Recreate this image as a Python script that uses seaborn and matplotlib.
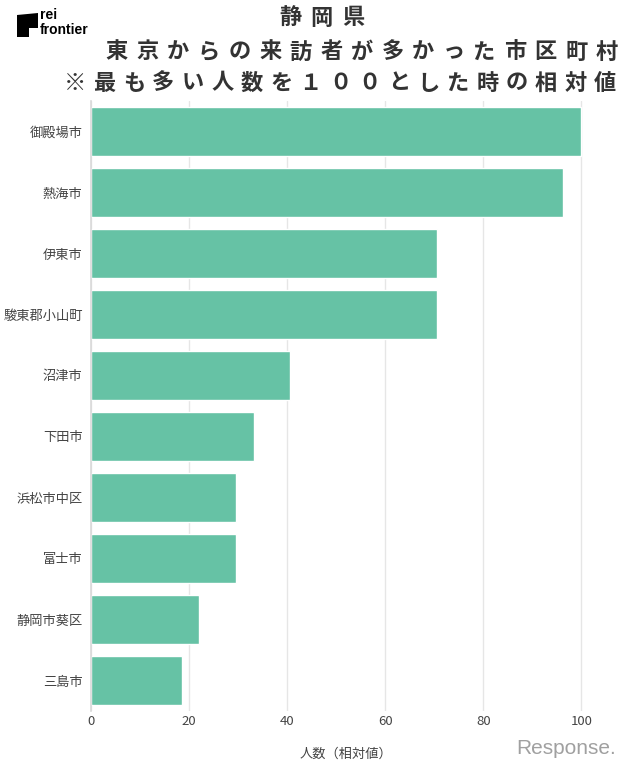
import matplotlib
matplotlib.use('Agg')
import matplotlib.pyplot as plt
from matplotlib.patches import Polygon
import seaborn as sns
import pandas as pd

# data (relative value, top = 100)
cities = ['御殿場市', '熱海市', '伊東市', '駿東郡小山町', '沼津市',
          '下田市', '浜松市中区', '富士市', '静岡市葵区', '三島市']
values = [100, 96.3, 70.5, 70.5, 40.6, 33.2, 29.5, 29.5, 22.0, 18.6]
xticks = [0, 20, 40, 60, 80, 100]

title_lines = ['静岡県', '東京からの来訪者が多かった市区町村', '※最も多い人数を１００とした時の相対値']
xlabel = '人数（相対値）'

sns.set_theme(style='white')
plt.rcParams['font.family'] = ['Noto Sans CJK JP', 'DejaVu Sans']

W, H = 640, 777
fig = plt.figure(figsize=(W / 100, H / 100), dpi=100)
fig.patch.set_facecolor('white')
ax = fig.add_axes([91 / W, 1 - 711 / H, 510 / W, 610 / H])

df = pd.DataFrame({'city': cities, 'value': values})
sns.barplot(data=df, x='value', y='city', orient='h', color='#66c2a5',
            saturation=1, width=0.8, ax=ax)

ax.set_xlim(0, 104)
ax.set_xticks(xticks)
ax.xaxis.grid(True, color='#e6e6e6', linewidth=1)
ax.set_axisbelow(True)
for s in ['top', 'right', 'bottom']:
    ax.spines[s].set_visible(False)
ax.spines['left'].set_color('#d9d9d9')
ax.spines['left'].set_linewidth(1.2)
ax.tick_params(axis='both', length=0, labelsize=9.5, labelcolor='#444444')
ax.tick_params(axis='x', pad=3)
ax.tick_params(axis='y', pad=6)
ax.set_ylabel('')
ax.set_xlabel(xlabel, fontsize=9.5, color='#444444', labelpad=14)

# title, spaced out character by character
def spaced(line, x0, x1, y, size=16):
    n = len(line)
    step = (x1 - x0) / (n - 1)
    for i, ch in enumerate(line):
        fig.text((x0 + i * step) / W, 1 - y / H, ch, ha='center', va='center',
                 fontsize=size, fontweight='bold', color='#333333')

spaced(title_lines[0], 290, 353, 18)
spaced(title_lines[1], 117, 607, 52)
spaced(title_lines[2], 75, 605, 83)

# rei frontier logo
pts = [(17, 15), (38, 13), (38, 28), (29, 28), (29, 37), (17, 37)]
fig.patches.append(Polygon([(x / W, 1 - y / H) for x, y in pts], closed=True,
                           transform=fig.transFigure, facecolor='black', edgecolor='none'))
fig.text(40 / W, 1 - 15 / H, 'rei', ha='left', va='center', fontsize=10,
         fontweight='bold', family='Liberation Sans', color='black')
fig.text(40 / W, 1 - 30 / H, 'frontier', ha='left', va='center', fontsize=10,
         fontweight='bold', family='Liberation Sans', color='black')

# Response watermark
fig.text(516 / W, 1 - 748 / H, 'Response.', ha='left', va='center', fontsize=15,
         family='Liberation Sans', color='#a0a0a0')

fig.savefig('out.png', dpi=100, facecolor='white')
